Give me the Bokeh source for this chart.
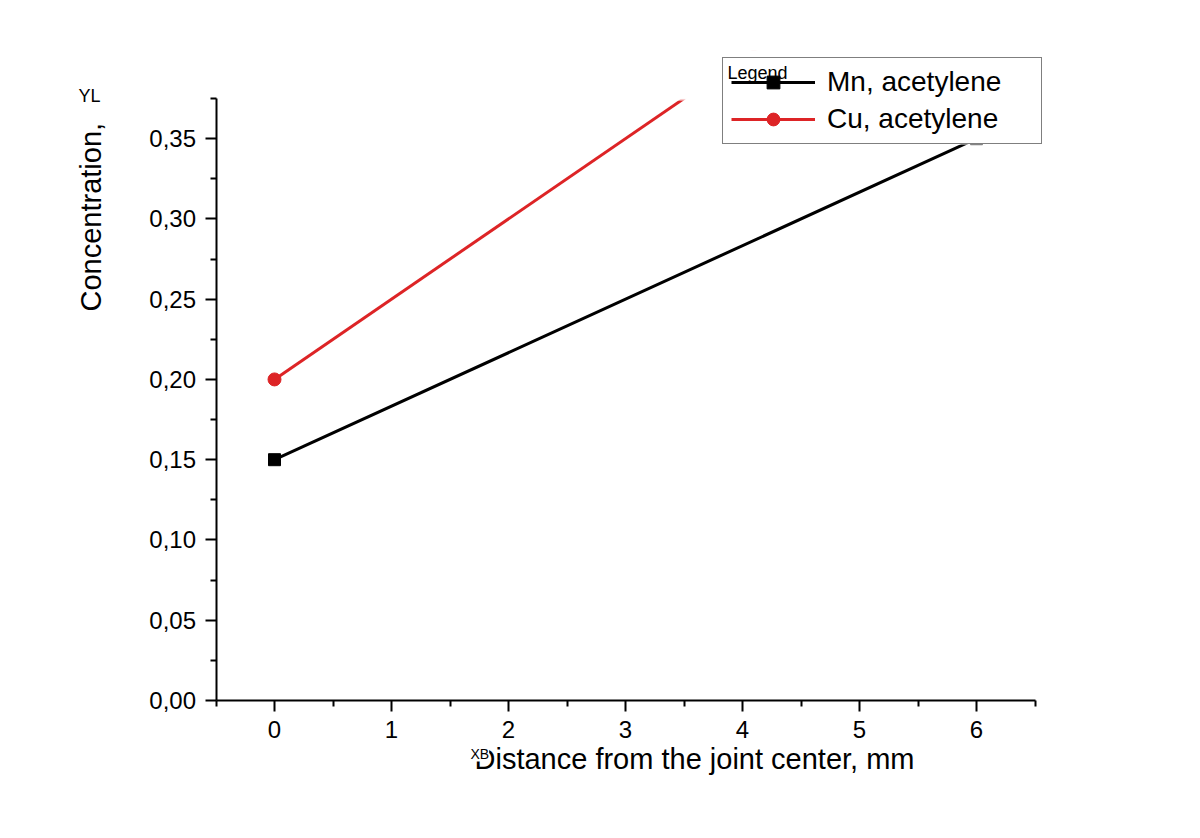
import math
from bokeh.plotting import figure
from bokeh.models import (Range1d, FixedTicker, CustomJSTickFormatter, Label,
                          Legend, LegendItem, BoxAnnotation)
from bokeh.embed import file_html
from bokeh.resources import INLINE

# ---- data ----
distance = [0, 6]
mn_acetylene = [0.15, 0.35]
cu_acetylene = [0.20, 0.50]
series_names = ["Mn, acetylene", "Cu, acetylene"]
x_ticks = [0, 1, 2, 3, 4, 5, 6]
x_minor = [-0.5, 0.5, 1.5, 2.5, 3.5, 4.5, 5.5, 6.5]
y_ticks = [0.0, 0.05, 0.10, 0.15, 0.20, 0.25, 0.30, 0.35]
y_minor = [0.025, 0.075, 0.125, 0.175, 0.225, 0.275, 0.325, 0.375]
x_bounds = (-0.5, 6.5)
y_bounds = (0.0, 0.375)
x_label = "Distance from the joint center, mm"
y_label = "Concentration, "

FONT = "Liberation Sans"
RED = "#dd2426"

W, H = 1184, 822
TOP = 50                                # canvas rows above the data frame
# pixel geometry of the axes box inside the canvas
X0_PX, PX_PER_X = 274.0, 117.0          # pixel of x=0, pixels per mm
Y0_PX, PX_PER_Y = 700.0, 602.0 / 0.375  # pixel of y=0, pixels per unit
x_start = -X0_PX / PX_PER_X
x_end = (W - X0_PX) / PX_PER_X
y_start = (Y0_PX - H) / PX_PER_Y
y_end = (Y0_PX - TOP) / PX_PER_Y


def dx(px):
    return (px - X0_PX) / PX_PER_X


def dy(py):
    return (Y0_PX - py) / PX_PER_Y


p = figure(width=W, height=H, x_range=Range1d(x_start, x_end),
           y_range=Range1d(y_start, y_end), output_backend="svg",
           toolbar_location=None, min_border=0, min_border_left=0,
           min_border_right=0, min_border_top=TOP, min_border_bottom=0)
p.outline_line_color = None
p.xgrid.visible = False
p.ygrid.visible = False
p.background_fill_color = "white"
p.border_fill_color = "white"

for ax, ticks, minor, bnds, loc in ((p.xaxis[0], x_ticks, x_minor, x_bounds, y_bounds[0]),
                                    (p.yaxis[0], y_ticks, y_minor, y_bounds, x_bounds[0])):
    ax.ticker = FixedTicker(ticks=ticks, minor_ticks=minor)
    ax.bounds = bnds
    ax.fixed_location = loc
    ax.axis_line_width = 2
    ax.axis_line_color = "black"
    ax.major_tick_line_width = 2
    ax.minor_tick_line_width = 2
    ax.major_tick_in = 0
    ax.major_tick_out = 11
    ax.minor_tick_in = 0
    ax.minor_tick_out = 6
    ax.major_label_text_font = FONT
    ax.major_label_text_font_size = "24px"
    ax.major_label_text_color = "black"
    ax.major_label_standoff = 9

p.yaxis[0].formatter = CustomJSTickFormatter(code="return tick.toFixed(2).replace('.', ',');")

r_mn = p.line(distance, mn_acetylene, line_color="black", line_width=3)
m_mn = p.scatter(distance, mn_acetylene, marker="square", size=12,
                 fill_color="black", line_color="black")
r_cu = p.line(distance, cu_acetylene, line_color=RED, line_width=3)
m_cu = p.scatter(distance, cu_acetylene, marker="circle", size=13,
                 fill_color=RED, line_color=RED)

# the data area ends at the top of the y axis: hide what lies above it
# (stacked a few times so that no anti-aliased edge is left at the frame top)
for _ in range(4):
    p.add_layout(BoxAnnotation(left=x_start - 1, right=x_end + 1, bottom=y_bounds[1],
                               top=y_end + 1, fill_color="white", fill_alpha=1.0,
                               line_color="white", line_width=4, level="glyph"))

# white backing of the legend box
legend_bg = BoxAnnotation(left=dx(722), right=dx(1040), top=dy(57), bottom=dy(144),
                          fill_color="white", fill_alpha=1.0, line_color=None,
                          level="annotation")
p.add_layout(legend_bg)

legend = Legend(items=[LegendItem(label=series_names[0], renderers=[r_mn, m_mn]),
                       LegendItem(label=series_names[1], renderers=[r_cu, m_cu])],
                location=(722, H - 144), padding=8, spacing=5, glyph_width=84,
                glyph_height=32, label_height=32, label_width=206,
                label_standoff=12, label_text_font=FONT,
                label_text_font_size="28px", label_text_color="black",
                border_line_color="black", border_line_width=1.5,
                background_fill_alpha=0.0, margin=0, level="annotation")
p.add_layout(legend, "center")

p.add_layout(Label(x=dx(727), y=dy(72), text="Legend", text_font=FONT,
                   text_font_size="18px", text_baseline="alphabetic",
                   text_color="black", level="annotation"))

p.add_layout(Label(x=dx(90), y=dy(311), text=y_label, angle=math.pi / 2,
                   text_font=FONT, text_font_size="29px",
                   text_baseline="alphabetic", text_align="left",
                   text_color="black"))
p.add_layout(Label(x=dx(694), y=dy(758), text=x_label, text_font=FONT,
                   text_font_size="29px", text_baseline="alphabetic",
                   text_align="center", text_color="black"))
p.add_layout(Label(x=dx(78), y=dy(95), text="YL", text_font=FONT,
                   text_font_size="18px", text_baseline="alphabetic",
                   text_color="black", level="annotation"))
p.add_layout(Label(x=dx(470), y=dy(753), text="XB", text_font=FONT,
                   text_font_size="14px", text_baseline="alphabetic",
                   text_color="black", background_fill_color="white",
                   background_fill_alpha=1.0, level="annotation"))

open("out.html", "w").write(file_html(p, INLINE))
